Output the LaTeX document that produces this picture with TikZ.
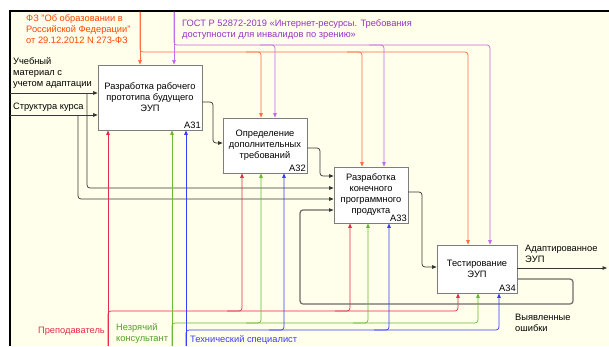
\documentclass[tikz,border=0pt]{standalone}
\usepackage{fontspec}
\setmainfont{Liberation Sans}
\usetikzlibrary{arrows.meta}

\definecolor{bgpaper}{RGB}{255,255,235}
\definecolor{zakon}{RGB}{255,110,70}
\definecolor{zakontxt}{RGB}{255,69,0}
\definecolor{gost}{RGB}{195,110,232}
\definecolor{gosttxt}{RGB}{150,50,200}
\definecolor{prep}{RGB}{228,45,75}
\definecolor{konsult}{RGB}{105,185,55}
\definecolor{konsulttxt}{RGB}{80,160,40}
\definecolor{tehspec}{RGB}{60,60,255}
\definecolor{boxline}{RGB}{125,125,125}
\definecolor{flowline}{RGB}{55,55,55}

\tikzset{
  func/.style={draw=boxline, fill=white, line width=0.8pt, align=center, inner sep=2pt},
  fnum/.style={anchor=south east, inner sep=1.5pt},
  lbl/.style={align=left, inner sep=0pt},
  arc/.style={line width=0.7pt, rounded corners=3pt, -{Triangle[length=4.5pt,width=3.6pt]}},
  flow/.style={arc, draw=flowline},
  fback/.style={arc, draw=gray!85!black, line width=1.2pt,
    -{Triangle[length=4.5pt,width=3.6pt,line width=0pt,color=flowline]}},
  zak/.style={arc, draw=zakon},
  gst/.style={arc, draw=gost},
  prp/.style={arc, draw=prep},
  kns/.style={arc, draw=konsult},
  teh/.style={arc, draw=tehspec}
}

\begin{document}
\begin{tikzpicture}[x=1pt, y=-1pt, font=\fontsize{9.3}{11}\selectfont]
  \useasboundingbox (0,0) rectangle (609,346);
  \fill[bgpaper] (9.5,10.5) rectangle (609,346);
  \draw[line width=2pt] (9.5,346) -- (9.5,10.5) -- (609,10.5);

  \node[func, minimum width=104pt, minimum height=65pt] (a31) at (150,97.5) {Разработка рабочего\\прототипа будущего\\ЭУП};
  \node[func, minimum width=84pt, minimum height=55pt] (a32) at (265,145.5) {Определение\\дополнительных\\требований};
  \node[func, minimum width=74pt, minimum height=56pt] (a33) at (371,195) {Разработка\\конечного\\программного\\продукта};
  \node[func, minimum width=80pt, minimum height=48pt] (a34) at (477,269) {Тестирование\\ЭУП};
  \node[fnum] (n31) at (a31.south east) {A31};
  \node[fnum] (n32) at (a32.south east) {A32};
  \node[fnum] (n33) at (a33.south east) {A33};
  \node[fnum] (n34) at (a34.south east) {A34};

  \node[lbl, text=zakontxt, anchor=west] (zlbl) at (26,29.5) {ФЗ "Об образовании в\\Российской Федерации"\\от 29.12.2012 N 273-ФЗ};
  \node[lbl, text=gosttxt, anchor=west] (glbl) at (182,29.5) {ГОСТ Р 52872-2019 «Интернет-ресурсы. Требования\\доступности для инвалидов по зрению»};
  \node[lbl, anchor=west] (ulbl) at (13,73.5) {Учебный\\материал с\\учетом адаптации};
  \node[lbl, anchor=west] (slbl) at (13,107) {Структура курса};
  \node[lbl, anchor=west] (albl) at (525,253.5) {Адаптированное\\ЭУП};
  \node[lbl, anchor=west] (olbl) at (515,322.5) {Выявленные\\ошибки};
  \node[lbl, text=prep, anchor=east] (plbl) at (105,331) {Преподаватель};
  \node[lbl, text=konsulttxt, anchor=west] (klbl) at (116,334) {Незрячий\\консультант};
  \node[lbl, text=tehspec, anchor=west] (tlbl) at (190,340) {Технический специалист};

  \coordinate (in1) at (9.5,93);
  \coordinate (in2) at (9.5,115);
  \coordinate (br1) at (87,93);
  \coordinate (br2) at (78,115);
  \coordinate (out) at (607,268);
  \draw[flow] (in1) -- (in1 -| a31.west);
  \draw[flow] (in2) -- (in2 -| a31.west);
  \draw[flow] (br1) |- (a33.west |- 0,188);
  \draw[flow] (br2) |- (a33.west |- 0,199);
  \draw[flow] (a31.east |- 0,102) -- (213,102) -- (213,143) -- (a32.west |- 0,143);
  \draw[flow] (a32.east |- 0,148) -- (320,148) -- (320,176) -- (a33.west |- 0,176);
  \draw[flow] (a33.east |- 0,192) -- (422,192) -- (422,267) -- (a34.west |- 0,267);
  \draw[flow] (a34.east |- 0,268) -- (out);
  \draw[fback] (a34.east |- 0,279) -- (573,279) -- (573,304) -- (300,304) -- (300,210) -- (a33.west |- 0,210);

  \coordinate (zk) at (140,11.5);
  \draw[zak] (zk) -- (zk |- a31.north);
  \draw[zak] (zk) |- (468,52) -- (a34.north -| 468,0);
  \foreach \bx/\bn in {261/a32, 362/a33}
    \draw[zak] (\bx-15,52) -| (\bn.north -| \bx,0);

  \coordinate (gs) at (174,11.5);
  \draw[gst] (gs) -- (gs |- a31.north);
  \draw[gst] (gs) |- (490,45) -- (a34.north -| 490,0);
  \foreach \bx/\bn in {275/a32, 384/a33}
    \draw[gst] (\bx-15,45) -| (\bn.north -| \bx,0);

  \coordinate (pr) at (108,346);
  \draw[prp] (pr) -- (pr |- a31.south);
  \draw[prp] (pr) |- (458,311) -- (a34.south -| 458,0);
  \foreach \bx/\bn in {242/a32, 350/a33}
    \draw[prp] (\bx-15,311) -| (\bn.south -| \bx,0);

  \coordinate (kn) at (172,346);
  \draw[kns] (kn) -- (kn |- a31.south);
  \draw[kns] (kn) |- (478,323) -- (a34.south -| 478,0);
  \foreach \bx/\bn in {261/a32, 368/a33}
    \draw[kns] (\bx-15,323) -| (\bn.south -| \bx,0);

  \coordinate (th) at (186,346);
  \draw[teh] (th) -- (th |- a31.south);
  \draw[teh] (th) |- (499,330) -- (a34.south -| 499,0);
  \foreach \bx/\bn in {284/a32, 389/a33}
    \draw[teh] (\bx-15,330) -| (\bn.south -| \bx,0);
\end{tikzpicture}
\end{document}
